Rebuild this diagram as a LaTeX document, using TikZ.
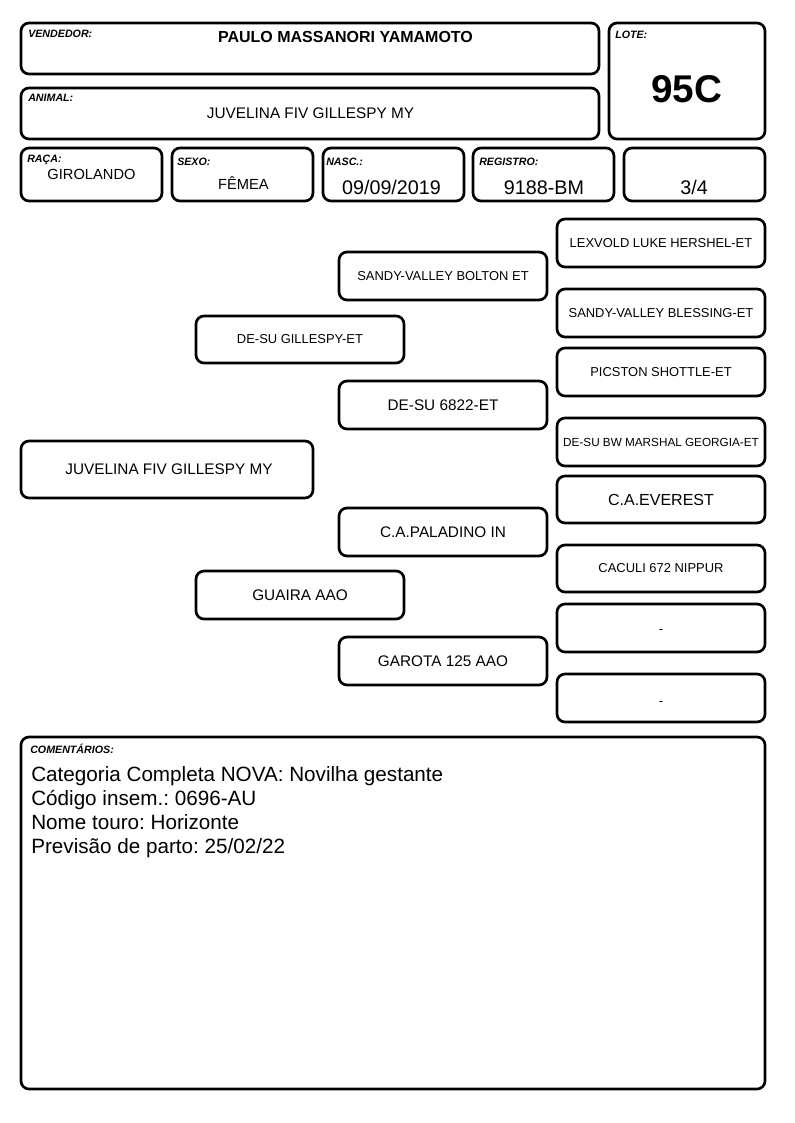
\documentclass[tikz,border=0pt]{standalone}
\usepackage{fontspec}
\setmainfont{Liberation Sans}
\usetikzlibrary{positioning}
\frenchspacing

\begin{document}
\begin{tikzpicture}[x=0.75pt, y=-0.75pt,
    box/.style={draw, line width=2pt, rounded corners=6pt},
    tag/.style={font=\fontsize{8}{9}\selectfont\bfseries\itshape, anchor=base west, inner sep=0pt},
    txt/.style={font=\fontsize{11.5}{13}\selectfont, inner sep=0pt},
    smalltxt/.style={font=\fontsize{9.7}{11}\selectfont, inner sep=0pt},
    tinytxt/.style={font=\fontsize{8.8}{10}\selectfont, inner sep=0pt},
    bigtxt/.style={font=\fontsize{12}{14}\selectfont, inner sep=0pt},
    datetxt/.style={font=\fontsize{14.8}{17}\selectfont, inner sep=0pt, anchor=base}]
			\useasboundingbox (0,0) rectangle (794,1123);

			% Draw the header boxes
			\draw[box] (21,23) rectangle (599,74);
			\node[tag] (vendedortag) at (28,38) {VENDEDOR:};
			\node[txt, font=\fontsize{12}{14}\selectfont\bfseries, anchor=base] (vendedor) at (345.5,42.3) {PAULO MASSANORI YAMAMOTO};

			\draw[box] (21,88) rectangle (599,139);
			\node[tag] (animaltag) at (28,102) {ANIMAL:};
			\node[txt, anchor=base] (animal) at (310.5,119) {JUVELINA FIV GILLESPY MY};

			\draw[box] (609,23) rectangle (765,139);
			\node[tag] (lotetag) at (615,39) {LOTE:};
			\node[font=\fontsize{29}{32}\selectfont\bfseries, inner sep=0pt, anchor=base] (lote) at (686.5,103) {95C};

			% Draw the row of small boxes
			\draw[box] (21,148) rectangle (162,201);
			\node[tag] (racatag) at (27,163) {RAÇA:};
			\node[txt, font=\fontsize{11}{13}\selectfont, anchor=base] (raca) at (91.5,179.3) {GIROLANDO};

			\draw[box] (172,148) rectangle (313,201);
			\node[tag] (sexotag) at (177,166) {SEXO:};
			\node[txt, font=\fontsize{11}{13}\selectfont, anchor=base] (sexo) at (243.5,190) {FÊMEA};

			\draw[box] (323,148) rectangle (464,201);
			\node[tag] (nasctag) at (326,166) {NASC.:};
			\node[datetxt] (nasc) at (391.5,195) {09/09/2019};

			\draw[box] (473,148) rectangle (614,201);
			\node[tag] (registrotag) at (479,166) {REGISTRO:};
			\node[datetxt] (registro) at (544,195) {9188-BM};

			\draw[box] (624,148) rectangle (765,201);
			\node[datetxt] (grau) at (694,195) {3/4};

			% Draw the pedigree, from the animal out to the great-grandparents
			\draw[box] (21,441) rectangle (313,498) node[midway, txt, xshift=1.5pt] (self) {JUVELINA FIV GILLESPY MY};

			\draw[box] (196,316) rectangle (404,363) node[midway, smalltxt] (pai) {DE-SU GILLESPY-ET};
			\draw[box] (196,571) rectangle (404,619) node[midway, txt] (mae) {GUAIRA AAO};

			\draw[box] (339,252) rectangle (547,300) node[midway, smalltxt] (avopp) {SANDY-VALLEY BOLTON ET};
			\draw[box] (339,381) rectangle (547,429) node[midway, txt] (avopm) {DE-SU 6822-ET};
			\draw[box] (339,508) rectangle (547,556) node[midway, txt] (avomp) {C.A.PALADINO IN};
			\draw[box] (339,637) rectangle (547,685) node[midway, txt] (avomm) {GAROTA 125 AAO};

			\draw[box] (557,219) rectangle (765,267) node[midway, smalltxt] (bisa1) {LEXVOLD LUKE HERSHEL-ET};
			\draw[box] (557,289) rectangle (765,337) node[midway, smalltxt] (bisa2) {SANDY-VALLEY BLESSING-ET};
			\draw[box] (557,348) rectangle (765,396) node[midway, smalltxt] (bisa3) {PICSTON SHOTTLE-ET};
			\draw[box] (557,418) rectangle (765,466) node[midway, tinytxt] (bisa4) {DE-SU BW MARSHAL GEORGIA-ET};
			\draw[box] (557,476) rectangle (765,523) node[midway, bigtxt] (bisa5) {C.A.EVEREST};
			\draw[box] (557,545) rectangle (765,592) node[midway, smalltxt] (bisa6) {CACULI 672 NIPPUR};
			\draw[box] (557,604) rectangle (765,652) node[midway, smalltxt, yshift=-3pt] (bisa7) {-};
			\draw[box] (557,674) rectangle (765,722) node[midway, smalltxt, yshift=-4.5pt] (bisa8) {-};

			% Draw the comments box
			\draw[box] (21,737) rectangle (765,1089);
			\node[tag] (comentariostag) at (30,753) {COMENTÁRIOS:};
			\node[font=\fontsize{15.5}{18}\selectfont, anchor=north west, inner sep=0pt, align=left] (comentarios) at (31,766)
			{Categoria Completa NOVA: Novilha gestante\\
			 Código insem.: 0696-AU\\
			 Nome touro: Horizonte\\
			 Previsão de parto: 25/02/22};

		\end{tikzpicture}
\end{document}
